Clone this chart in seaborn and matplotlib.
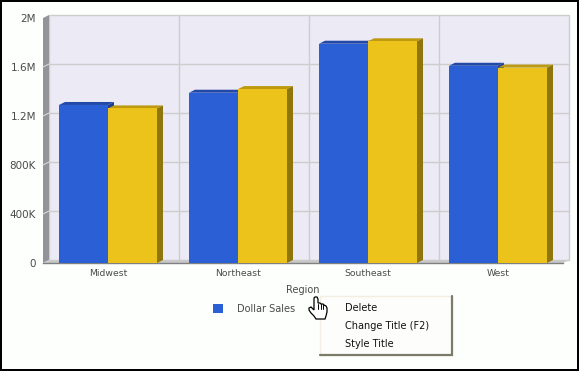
import matplotlib
matplotlib.use('Agg')
import matplotlib.pyplot as plt
from matplotlib.patches import Polygon, Rectangle
from matplotlib.transforms import IdentityTransform
import pandas as pd
import seaborn as sns

regions = ['Midwest', 'Northeast', 'Southeast', 'West']
series_names = ['Dollar Sales', 'Dollar Sales Forecast']
blue_values = [1290000, 1390000, 1790000, 1610000]
yellow_values = [1262000, 1420000, 1810000, 1595000]
y_ticks = [0, 400000, 800000, 1200000, 1600000, 2000000]
y_tick_labels = ['0', '400K', '800K', '1.2M', '1.6M', '2M']
menu_items = ['Delete', 'Change Title (F2)', 'Style Title']

BLUE, BLUE_TOP, BLUE_SIDE = '#2b5fd6', '#2349a8', '#1f3f92'
YELLOW, YELLOW_TOP, YELLOW_SIDE = '#ecc31b', '#bd9a10', '#8f760c'
WALL, GRID, TEXT = '#eceaf4', '#cdcdcd', '#4a4a4a'
DX, DY = 6, 3

df = pd.DataFrame({
    'Region': regions * 2,
    'Series': [series_names[0]] * 4 + [series_names[1]] * 4,
    'Value': blue_values + yellow_values,
})

sns.set_theme(style='white')
plt.rcParams['font.family'] = ['DejaVu Sans']

W, H = 579, 371
fig = plt.figure(figsize=(W / 100, H / 100), dpi=100, facecolor='black')

# backdrop in pixel coordinates, y going down
bg = fig.add_axes([0, 0, 1, 1], zorder=0)
bg.set_xlim(0, W)
bg.set_ylim(H, 0)
bg.axis('off')
bg.add_patch(Rectangle((2, 2), 575, 367, fc='#fdfffc', ec='none'))
bg.add_patch(Rectangle((49, 15), 520, 245, fc=WALL, ec=GRID, lw=1))
bg.add_patch(Polygon([(43, 18), (49, 15), (49, 260), (43, 263)], fc='#949498', ec='none'))
bg.add_patch(Polygon([(43, 263), (49, 260), (569, 260), (563, 263)], fc='#c9c9c9', ec='none'))

ax = fig.add_axes([43 / W, (H - 263) / H, 520 / W, 245 / H], zorder=1)
ax.patch.set_alpha(0)
sns.barplot(data=df, x='Region', y='Value', hue='Series', hue_order=series_names,
            palette=[BLUE, YELLOW], width=0.754, saturation=1, ax=ax, zorder=3,
            linewidth=0)
ax.set_xlim(-0.5, 3.5)
ax.set_ylim(0, 2000000)
ax.set_yticks(y_ticks)
ax.set_yticklabels(y_tick_labels)
ax.set_xlabel('')
ax.set_ylabel('')
ax.tick_params(axis='y', length=0, pad=5, labelsize=7.5, labelcolor=TEXT)
ax.tick_params(axis='x', length=0, pad=4, labelsize=6.7, labelcolor=TEXT)
for side in ['top', 'left', 'right']:
    ax.spines[side].set_visible(False)
ax.spines['bottom'].set_color('#808080')
ax.spines['bottom'].set_linewidth(1)

# gridlines sit on the back wall, shifted from the data position
for tick in y_ticks[1:-1]:
    y0 = ax.transData.transform((0, tick))[1]
    py = H - y0
    bg.plot([49, 569], [py - DY, py - DY], color=GRID, lw=1)
    bg.plot([43, 49], [py, py - DY], color='#d8d8d8', lw=0.8)
for i in range(1, 4):
    x0 = ax.transData.transform((i - 0.5, 0))[0]
    bg.plot([x0 + DX, x0 + DX], [15, 260], color=GRID, lw=1)

# extruded faces of each bar, worked out from the bars seaborn drew
containers = ax.containers
for cont, top_c, side_c, z in zip(containers, [BLUE_TOP, YELLOW_TOP], [BLUE_SIDE, YELLOW_SIDE], [2, 2.5]):
    for bar in cont:
        (xa, ya), (xb, yb) = ax.transData.transform(
            [(bar.get_x(), 0), (bar.get_x() + bar.get_width(), bar.get_height())])
        ax.add_patch(Polygon([(xa, yb), (xb, yb), (xb + DX, yb + DY), (xa + DX, yb + DY)],
                             fc=top_c, ec='none', transform=IdentityTransform(), zorder=z))
        ax.add_patch(Polygon([(xb, ya), (xb + DX, ya + DY), (xb + DX, yb + DY), (xb, yb)],
                             fc=side_c, ec='none', transform=IdentityTransform(), zorder=z))

handles, labels = ax.get_legend_handles_labels()
leg = ax.legend(handles[:1], labels[:1], frameon=False, fontsize=7, labelcolor=TEXT,
                loc='center left', bbox_to_anchor=(213 / W, (H - 309) / H),
                bbox_transform=fig.transFigure, handlelength=1.03, handleheight=1.03,
                handletextpad=1.44, borderpad=0, borderaxespad=0)

# top layer: axis title, popup menu and hand pointer
top = fig.add_axes([0, 0, 1, 1], zorder=5)
top.set_xlim(0, W)
top.set_ylim(H, 0)
top.axis('off')
top.patch.set_alpha(0)
top.text(303, 290, 'Region', fontsize=7, color=TEXT, ha='center', va='center')
top.add_patch(Rectangle((320, 296), 132, 59, fc='#fdfdfb', ec='#f3ede2', lw=1))
top.plot([452, 452, 320], [296, 355, 355], color='#7c7c6c', lw=1.6, solid_joinstyle='miter')
for label, y in zip(menu_items, [308, 326, 344]):
    top.text(345, y, label, fontsize=7.0, color='#111111', va='center', ha='left')
hand = [(314, 298), (315, 297), (317, 297), (318, 299), (318, 303), (320, 303), (321, 304),
        (323, 304), (324, 305), (326, 306), (327, 308), (327, 312), (326, 316), (325, 319),
        (316, 319), (314, 316), (311, 313), (309, 310), (309, 308), (311, 307), (314, 310)]
top.add_patch(Polygon(hand, fc='white', ec='black', lw=0.9, zorder=6))
for x in [318, 320.5, 323]:
    top.plot([x, x], [304, 309], color='black', lw=0.7, zorder=7)

fig.savefig('out.png', dpi=100, facecolor=fig.get_facecolor())
plt.close()
